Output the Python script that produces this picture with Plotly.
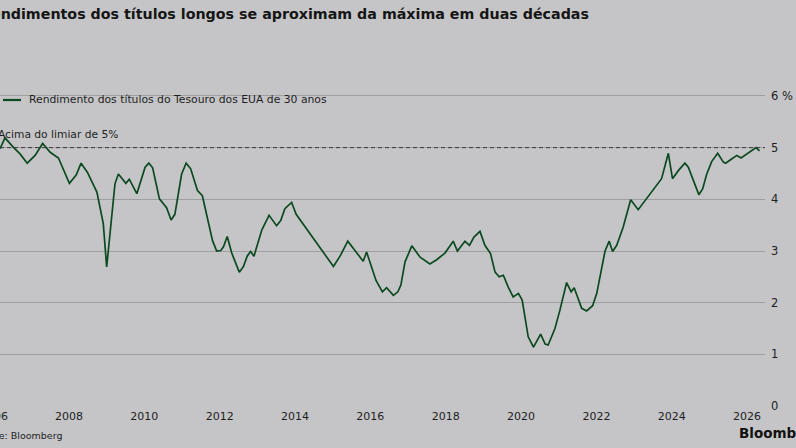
import plotly.graph_objects as go

# ---- data ----
years = [2006.17, 2006.30, 2006.52, 2006.70, 2006.89, 2007.10, 2007.30, 2007.50, 2007.72, 2007.85,
         2008.01, 2008.19, 2008.32, 2008.49, 2008.74, 2008.91, 2009.00, 2009.22, 2009.31, 2009.51,
         2009.60, 2009.80, 2010.02, 2010.12, 2010.22, 2010.40, 2010.59, 2010.71, 2010.81, 2010.99,
         2011.11, 2011.23, 2011.41, 2011.54, 2011.67, 2011.81, 2011.92, 2012.03, 2012.10, 2012.20,
         2012.32, 2012.52, 2012.63, 2012.73, 2012.82, 2012.91, 2013.12, 2013.31, 2013.51, 2013.62,
         2013.73, 2013.91, 2014.03, 2015.02, 2015.21, 2015.40, 2015.59, 2015.81, 2015.90, 2016.04,
         2016.15, 2016.32, 2016.43, 2016.61, 2016.73, 2016.81, 2016.92, 2017.10, 2017.32, 2017.58,
         2017.76, 2017.98, 2018.20, 2018.31, 2018.51, 2018.63, 2018.75, 2018.91, 2019.04, 2019.19,
         2019.31, 2019.42, 2019.53, 2019.66, 2019.79, 2019.93, 2020.03, 2020.19, 2020.33, 2020.52,
         2020.64, 2020.72, 2020.90, 2021.03, 2021.21, 2021.33, 2021.41, 2021.61, 2021.74, 2021.90,
         2022.01, 2022.23, 2022.34, 2022.43, 2022.54, 2022.71, 2022.91, 2023.11, 2023.34, 2023.60,
         2023.73, 2023.91, 2024.02, 2024.18, 2024.35, 2024.44, 2024.57, 2024.72, 2024.82, 2024.93,
         2025.06, 2025.22, 2025.37, 2025.43, 2025.59, 2025.73, 2025.84, 2025.99, 2026.24, 2026.33]
yields = [4.98, 5.19, 5.01, 4.88, 4.70, 4.85, 5.08, 4.91, 4.80, 4.59,
          4.31, 4.47, 4.70, 4.52, 4.14, 3.53, 2.69, 4.30, 4.49, 4.31,
          4.39, 4.11, 4.62, 4.70, 4.61, 4.01, 3.84, 3.60, 3.71, 4.49,
          4.70, 4.59, 4.17, 4.07, 3.65, 3.20, 3.00, 3.01, 3.08, 3.28,
          2.96, 2.59, 2.70, 2.90, 2.99, 2.90, 3.41, 3.69, 3.49, 3.59,
          3.82, 3.94, 3.71, 2.70, 2.92, 3.19, 3.01, 2.80, 2.98, 2.66,
          2.43, 2.21, 2.29, 2.14, 2.21, 2.34, 2.79, 3.10, 2.88, 2.75,
          2.83, 2.96, 3.19, 3.00, 3.19, 3.11, 3.27, 3.38, 3.11, 2.95,
          2.59, 2.50, 2.53, 2.30, 2.11, 2.18, 2.05, 1.34, 1.14, 1.39,
          1.20, 1.18, 1.50, 1.85, 2.39, 2.21, 2.29, 1.89, 1.84, 1.94,
          2.18, 3.00, 3.19, 2.99, 3.11, 3.46, 3.99, 3.80, 4.03, 4.29,
          4.40, 4.89, 4.40, 4.56, 4.70, 4.62, 4.38, 4.09, 4.20, 4.49,
          4.73, 4.89, 4.72, 4.70, 4.78, 4.85, 4.80, 4.88, 5.00, 4.94]
threshold = 5
x_tick_years = [2008, 2010, 2012, 2014, 2016, 2018, 2020, 2022, 2024, 2026]
x_tick_labels = [str(v) for v in x_tick_years]
y_tick_vals = [0, 1, 2, 3, 4, 5, 6]
y_tick_labels = ["0", "1", "2", "3", "4", "5", "6 %"]

title = "Rendimentos dos títulos longos se aproximam da máxima em duas décadas"
series_name = "Rendimento dos títulos do Tesouro dos EUA de 30 anos"
threshold_label = "Acima do limiar de 5%"
source = "Fonte: Bloomberg"
brand = "Bloomberg"

# ---- styling / layout ----
W, H = 796, 448
ML, MR, MT, MB = 0, 31, 90, 42
PW, PH = W - ML - MR, H - MT - MB
BG = "#c5c5c7"
GRID = "#9f9fa1"
LINE = "#0b4a21"
FONT = "DejaVu Sans"
TXT = "#1e1e1e"


def px(xpix):
    return (xpix - ML) / PW


def py(ypix):
    return (H - MB - ypix) / PH


x_range = [2006.168, 2026.476]
y_range = [0, 6.116]

fig = go.Figure()
fig.add_trace(go.Scatter(x=years, y=yields, mode="lines", name=series_name,
                         line=dict(color=LINE, width=1.7), showlegend=False))

fig.add_shape(type="line", xref="paper", yref="y", x0=0, x1=1, y0=threshold, y1=threshold,
              line=dict(color="#3a3a3a", width=1, dash="4px,3px"), layer="above")
# legend swatch
fig.add_shape(type="line", xref="paper", yref="paper", x0=px(3), x1=px(21), y0=py(100), y1=py(100),
              line=dict(color=LINE, width=2.2))

ann = [
    dict(text="<b>" + title + "</b>", x=px(-21.6), y=py(14), font=dict(size=14.25, color="#151515")),
    dict(text=series_name, x=px(26.5), y=py(100), font=dict(size=10.8, color=TXT)),
    dict(text=threshold_label, x=px(-4), y=py(134), font=dict(size=10.7, color=TXT)),
    dict(text=source, x=px(-24), y=py(435), font=dict(size=9.5, color=TXT)),
    dict(text="<b>" + brand + "</b>", x=px(737), y=py(433), font=dict(size=13.5, color="#111")),
]
for a in ann:
    fig.add_annotation(xref="paper", yref="paper", xanchor="left", yanchor="middle",
                       showarrow=False, font_family=FONT, **{k: v for k, v in a.items()})
# partially visible 2006 tick label at the left edge
fig.add_annotation(xref="paper", yref="paper", x=px(-6.3), y=py(416), xanchor="center", yanchor="middle",
                   text="2006", showarrow=False, font=dict(family=FONT, size=11, color=TXT))

fig.update_layout(
    width=W, height=H, margin=dict(l=ML, r=MR, t=MT, b=MB, autoexpand=False),
    paper_bgcolor=BG, plot_bgcolor=BG, showlegend=False,
    font=dict(family=FONT, size=11, color=TXT),
    xaxis=dict(range=x_range, tickvals=x_tick_years, ticktext=x_tick_labels, showgrid=False,
               zeroline=False, showline=False, ticks="", tickfont=dict(size=11, color=TXT),
               ticklabelstandoff=2, fixedrange=True),
    yaxis=dict(range=y_range, side="right", tickvals=y_tick_vals, ticktext=y_tick_labels,
               showgrid=True, gridcolor=GRID, gridwidth=1, zeroline=False, showline=False,
               ticks="", tickfont=dict(size=11.5, color=TXT), ticklabelstandoff=5,
               fixedrange=True),
)

fig.write_html("out.html")
